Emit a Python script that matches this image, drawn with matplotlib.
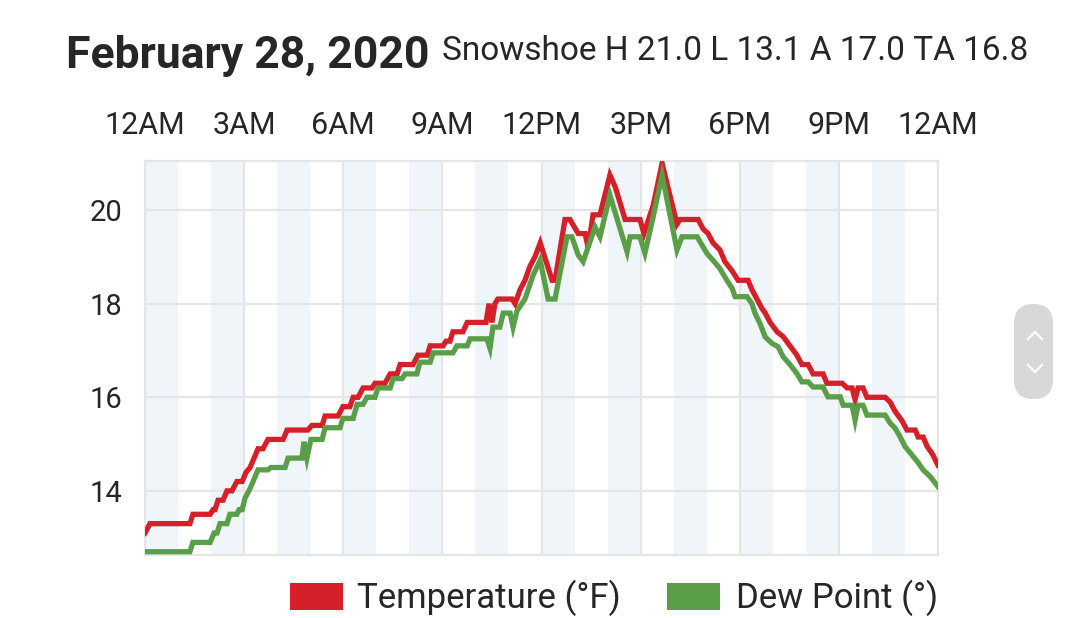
import matplotlib
matplotlib.use("Agg")
import matplotlib.pyplot as plt
from matplotlib.patches import Rectangle, FancyBboxPatch
from matplotlib.lines import Line2D

plt.rcParams['font.family'] = ['Roboto', 'DejaVu Sans']

# ---------------- data ----------------
title_text = "February 28, 2020"
subtitle_text = "Snowshoe H 21.0 L 13.1 A 17.0 TA 16.8"
x_tick_hours = [0, 3, 6, 9, 12, 15, 18, 21, 24]
x_tick_labels = ["12AM", "3AM", "6AM", "9AM", "12PM", "3PM", "6PM", "9PM", "12AM"]
y_ticks = [14, 16, 18, 20]
series_names = ["Temperature (°F)", "Dew Point (°)"]

temp_hours = [0.00, 0.15, 1.36, 1.45, 1.97, 2.06, 2.12, 2.21, 2.36, 2.48, 2.63, 2.78, 2.94,
              3.06, 3.18, 3.30, 3.42, 3.57, 3.72, 4.18, 4.30, 4.93, 5.05, 5.36, 5.45, 5.84,
              5.99, 6.20, 6.30, 6.45, 6.60, 6.87, 6.96, 7.26, 7.42, 7.63, 7.72, 8.11, 8.26,
              8.54, 8.63, 9.02, 9.11, 9.23, 9.32, 9.62, 9.75, 10.32, 10.41, 10.50, 10.59,
              10.68, 11.11, 11.20, 11.35, 11.50, 11.65, 11.80, 11.96, 12.32, 12.41, 12.71,
              12.86, 13.11, 13.32, 13.41, 13.56, 13.77, 14.07, 14.23, 14.53, 14.98, 15.10,
              15.38, 15.65, 16.10, 16.19, 16.74, 16.89, 17.04, 17.19, 17.40, 17.55, 17.77,
              17.95, 18.25, 18.37, 18.52, 18.67, 18.77, 18.92, 19.13, 19.31, 19.52, 19.73,
              19.88, 20.07, 20.22, 20.52, 20.64, 21.10, 21.25, 21.40, 21.49, 21.58, 21.73,
              21.85, 22.40, 22.55, 22.70, 22.91, 23.06, 23.31, 23.40, 23.55, 23.67, 23.82,
              24.00]
temp_values = [13.1, 13.3, 13.3, 13.5, 13.5, 13.6, 13.6, 13.8, 13.8, 14.0, 14.0, 14.2, 14.2,
               14.4, 14.5, 14.7, 14.9, 14.9, 15.1, 15.1, 15.3, 15.3, 15.4, 15.4, 15.6, 15.6,
               15.8, 15.8, 16.0, 16.0, 16.2, 16.2, 16.3, 16.3, 16.5, 16.5, 16.7, 16.7, 16.9,
               16.9, 17.1, 17.1, 17.2, 17.2, 17.4, 17.4, 17.6, 17.6, 18.0, 17.6, 18.0,
               18.1, 18.1, 18.0, 18.3, 18.5, 18.8, 19.0, 19.3, 18.5, 18.5, 19.8,
               19.8, 19.5, 19.5, 19.2, 19.9, 19.9, 20.75, 20.5, 19.8, 19.8, 19.5,
               20.1, 21.0, 19.7, 19.8, 19.8, 19.6, 19.5, 19.3, 19.15, 18.9, 18.7,
               18.5, 18.5, 18.3, 18.1, 17.9, 17.8, 17.6, 17.4, 17.3, 17.1, 16.9,
               16.7, 16.7, 16.5, 16.5, 16.3, 16.3, 16.2, 16.2, 15.95, 16.2, 16.2,
               16.0, 16.0, 15.9, 15.7, 15.5, 15.3, 15.3, 15.15, 15.15, 14.95, 14.8,
               14.55]

dew_hours = [0.00, 1.36, 1.45, 1.97, 2.09, 2.18, 2.27, 2.48, 2.57, 2.78, 2.85, 2.94, 3.03,
             3.18, 3.27, 3.42, 3.72, 3.81, 4.24, 4.33, 4.75, 4.81, 4.90, 5.02, 5.36, 5.45,
             5.90, 5.99, 6.30, 6.42, 6.60, 6.72, 6.96, 7.05, 7.42, 7.51, 7.78, 7.87, 8.23,
             8.32, 8.63, 8.72, 9.32, 9.44, 9.75, 9.84, 10.35, 10.44, 10.53, 10.74, 10.84,
             11.05, 11.14, 11.26, 11.50, 11.74, 11.96, 12.20, 12.41, 12.77, 12.92, 13.11,
             13.26, 13.62, 13.77, 14.07, 14.59, 14.68, 14.98, 15.13, 15.38, 15.65, 16.10,
             16.25, 16.71, 16.86, 17.01, 17.19, 17.40, 17.61, 17.77, 17.86, 18.22, 18.37,
             18.46, 18.61, 18.77, 18.98, 19.16, 19.31, 19.52, 19.73, 19.88, 20.07, 20.22,
             20.52, 20.67, 21.04, 21.13, 21.40, 21.49, 21.58, 21.73, 21.85, 22.40, 22.55,
             22.70, 22.85, 23.00, 23.21, 23.37, 23.55, 23.76, 24.00]
dew_values = [12.7, 12.7, 12.9, 12.9, 13.1, 13.1, 13.3, 13.3, 13.5, 13.5, 13.6, 13.6, 13.85,
              14.05, 14.2, 14.45, 14.45, 14.5, 14.5, 14.7, 14.7, 15.05, 14.7, 15.1, 15.1, 15.35,
              15.35, 15.55, 15.55, 15.85, 15.85, 16.0, 16.0, 16.2, 16.2, 16.4, 16.4, 16.5, 16.5,
              16.75, 16.75, 16.95, 16.95, 17.1, 17.1, 17.25, 17.25, 17.05, 17.5, 17.5, 17.8,
              17.8, 17.5, 17.85, 18.1, 18.6, 18.93, 18.1, 18.1, 19.43, 19.43, 19.04,
              18.9, 19.64, 19.43, 20.32, 19.11, 19.43, 19.43, 19.08, 19.86, 20.75, 19.15,
              19.43, 19.43, 19.25, 19.07, 18.93, 18.75, 18.5, 18.33, 18.15, 18.15, 18.0,
              17.8, 17.58, 17.29, 17.15, 17.08, 16.87, 16.7, 16.51, 16.33, 16.33, 16.22,
              16.22, 16.01, 16.01, 15.83, 15.83, 15.51, 15.83, 15.83, 15.62, 15.62, 15.45,
              15.34, 15.16, 14.95, 14.77, 14.63, 14.45, 14.31, 14.09]

# ---------------- styling ----------------
W, H = 1075, 618
RED = "#d62029"
GREEN = "#5a9f48"
GRID = "#e5e5e5"
BAND = "#f0f5fa"
TEXT = "#262626"

def fx(px):
    return px / W

def fy(py):
    return 1 - py / H

fig = plt.figure(figsize=(W / 100, H / 100), dpi=100)
fig.patch.set_facecolor("white")
ax = fig.add_axes([fx(145), fy(555), fx(938) - fx(145), fy(161) - fy(555)])
ax.set_xlim(0, 24)
ax.set_ylim(12.63, 21.05)

# alternating hour bands
for h in range(0, 24, 2):
    ax.axvspan(h, h + 1, color=BAND, lw=0, zorder=0)

ax.set_xticks(x_tick_hours)
ax.set_xticklabels(x_tick_labels)
ax.set_yticks(y_ticks)
ax.set_yticklabels([str(v) for v in y_ticks])
ax.xaxis.tick_top()
ax.tick_params(axis='x', length=0, pad=15, labelsize=22, labelcolor=TEXT)
ax.tick_params(axis='y', length=0, pad=16, labelsize=21, labelcolor=TEXT)
ax.grid(True, color=GRID, lw=1.6, zorder=1)
for s in ax.spines.values():
    s.set_color(GRID)
    s.set_linewidth(1.6)

ax.plot(temp_hours, temp_values, color=RED, lw=3.8, zorder=3,
        solid_joinstyle='miter', clip_on=True)
ax.plot(dew_hours, dew_values, color=GREEN, lw=3.8, zorder=4,
        solid_joinstyle='miter', clip_on=True)

# titles
fig.text(fx(66), fy(68), title_text, fontsize=32, fontweight='bold', color=TEXT,
         ha='left', va='baseline')
fig.text(fx(442), fy(60), subtitle_text, fontsize=24, color=TEXT,
         ha='left', va='baseline')

# legend (manual)
colors = [RED, GREEN]
rect_x = [290, 667]
text_x = [357, 736]
for c, rx, tx, name in zip(colors, rect_x, text_x, series_names):
    fig.patches.append(Rectangle((fx(rx), fy(610)), fx(53), 27 / H, transform=fig.transFigure,
                                 facecolor=c, edgecolor='none'))
    fig.text(fx(tx), fy(608), name, fontsize=25, color=TEXT, ha='left', va='baseline')

# scroll widget
fig.patches.append(FancyBboxPatch((fx(1014), fy(399)), fx(39), 95 / H,
                                  boxstyle="round,pad=0,rounding_size=0.018",
                                  transform=fig.transFigure, facecolor="#d8d8d8",
                                  edgecolor='none', mutation_aspect=W / H))
fig.lines.append(Line2D([fx(1028), fx(1035), fx(1042)], [fy(339), fy(332), fy(339)],
                        transform=fig.transFigure, color='white', lw=1.6))
fig.lines.append(Line2D([fx(1028), fx(1035), fx(1042)], [fy(365), fy(372), fy(365)],
                        transform=fig.transFigure, color='white', lw=1.6))

fig.savefig("out.png", dpi=100, facecolor="white")
